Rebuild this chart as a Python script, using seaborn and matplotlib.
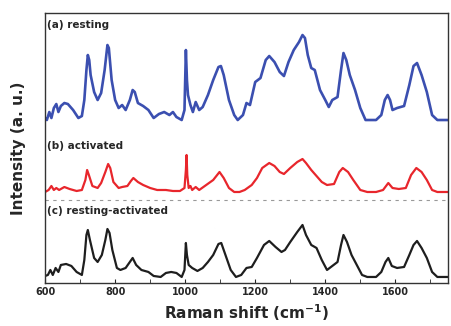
import numpy as np
import matplotlib
matplotlib.use("Agg")
import matplotlib.pyplot as plt
import matplotlib.ticker as ticker
import seaborn as sns

# ── data (wavenumber in cm-1, intensity in a.u. above own baseline) ──
wn_a = [600, 605, 612, 618, 625, 632, 638, 645, 655, 665, 680, 695, 705, 712, 718, 722, 726, 730,
        740, 750, 760, 770, 778, 782, 790, 800, 810, 820, 830, 842, 850, 856, 865, 880, 895, 910,
        925, 940, 955, 965, 975, 990, 998, 1002, 1005, 1008, 1015, 1022, 1030, 1040, 1050, 1065,
        1080, 1095, 1102, 1110, 1125, 1140, 1150, 1165, 1175, 1185, 1200, 1215, 1230, 1240, 1255,
        1270, 1282, 1295, 1310, 1325, 1335, 1342, 1350, 1360, 1370, 1385, 1400, 1410, 1420, 1435,
        1445, 1452, 1460, 1470, 1485, 1500, 1515, 1530, 1545, 1560, 1570, 1578, 1585, 1592, 1605,
        1625, 1640, 1652, 1662, 1675, 1690, 1705, 1720, 1750]
int_a = [2, 0, 8, 2, 12, 16, 8, 14, 17, 16, 10, 2, 4, 20, 50, 65, 60, 45,
         28, 20, 27, 50, 75, 72, 40, 20, 12, 15, 10, 20, 30, 28, 17, 14, 10, 2,
         6, 8, 5, 8, 3, 0, 10, 70, 40, 25, 15, 8, 18, 10, 13, 25,
         40, 53, 54, 45, 20, 5, 0, 5, 17, 15, 38, 42, 60, 64, 58,
         48, 44, 58, 70, 78, 85, 82, 65, 52, 50, 30, 20, 13, 20, 23,
         50, 67, 60, 45, 30, 12, 0, 0, 0, 5, 20, 25, 20, 10, 12,
         14, 35, 54, 57, 45, 28, 5, 0, 0]

wn_b = [600, 610, 618, 625, 632, 640, 655, 670, 690, 705, 715, 720, 725, 735, 750, 760, 772, 780,
        786, 795, 810, 820, 835, 845, 852, 865, 880, 900, 920, 945, 965, 985, 998, 1002, 1004,
        1006, 1010, 1015, 1020, 1030, 1040, 1060, 1080, 1098, 1110, 1125, 1140, 1155, 1170, 1190,
        1205, 1220, 1240, 1255, 1270, 1282, 1300, 1320, 1335, 1345, 1360, 1375, 1390, 1405, 1425,
        1440, 1450, 1465, 1480, 1500, 1520, 1545, 1565, 1580, 1592, 1610, 1630, 1645, 1660, 1675,
        1690, 1705, 1720, 1750]
int_b = [0, 2, 6, 2, 4, 2, 5, 3, 1, 2, 12, 22, 17, 6, 4, 9, 20, 28,
         24, 10, 4, 5, 6, 11, 14, 10, 7, 4, 2, 2, 1, 1, 4, 22, 37,
         17, 4, 6, 2, 5, 2, 7, 12, 20, 14, 4, 0, 0, 2, 7,
         14, 24, 29, 26, 20, 18, 24, 30, 33, 29, 22, 16, 10, 7, 8,
         20, 24, 20, 12, 2, 0, 0, 2, 9, 4, 3, 4, 17, 24, 20,
         12, 2, 0, 0]

wn_c = [600, 608, 615, 622, 630, 638, 645, 660, 675, 690, 705, 712, 718, 722, 728, 740, 750, 762,
        772, 778, 784, 792, 805, 815, 830, 842, 850, 860, 875, 895, 910, 930, 945, 960, 975, 990,
        998, 1002, 1005, 1010, 1020, 1035, 1050, 1065, 1080, 1095, 1103, 1115, 1130, 1145, 1160,
        1175, 1190, 1205, 1225, 1240, 1258, 1275, 1285, 1300, 1320, 1335, 1345, 1360, 1375, 1390,
        1405, 1420, 1435, 1445, 1452, 1462, 1475, 1490, 1505, 1520, 1545, 1560, 1572, 1580, 1590,
        1605, 1625, 1640, 1652, 1662, 1675, 1690, 1705, 1720, 1750]
int_c = [1, 2, 7, 2, 9, 5, 12, 13, 11, 5, 2, 17, 42, 47, 37, 19, 15, 22,
         37, 48, 44, 27, 9, 7, 9, 15, 19, 12, 7, 5, 1, 0, 4, 5, 4, 0,
         7, 34, 22, 12, 9, 6, 9, 15, 22, 33, 34, 22, 7, 0, 2,
         9, 10, 19, 32, 36, 30, 25, 27, 35, 45, 52, 42, 32, 29, 17,
         7, 11, 15, 32, 42, 35, 22, 12, 2, 0, 0, 5, 15, 19, 11,
         9, 10, 22, 32, 36, 29, 19, 5, 0, 0]

labels = ["(a) resting", "(b) activated", "(c) resting-activated"]
offsets = [163, 91, 6]
colors = ["#3b4fb0", "#e8262c", "#1e1e1e"]

sns.set_style("ticks")
plt.rcParams["font.family"] = ["DejaVu Sans"]
plt.rcParams["font.weight"] = "bold"

fig = plt.figure(figsize=(4.51, 3.26), dpi=100)
ax = fig.add_axes([0.1, 0.132, 0.893, 0.828])

series = [(wn_a, int_a), (wn_b, int_b), (wn_c, int_c)]
for (wn, inten), off, col, lw in zip(series, offsets, colors, [1.9, 1.6, 1.6]):
    sns.lineplot(x=wn, y=np.array(inten) + off, ax=ax, color=col, linewidth=lw)

ax.axhline(83, color="#999999", linestyle=(0, (3, 4)), linewidth=0.8)

ax.text(605, 258, labels[0], fontsize=7.5, fontweight="bold", va="center")
ax.text(605, 137, labels[1], fontsize=7.5, fontweight="bold", va="center")
ax.text(605, 72, labels[2], fontsize=7.5, fontweight="bold", va="center")

ax.set_xlim(600, 1750)
ax.set_ylim(0, 270)
ax.xaxis.set_major_locator(ticker.MultipleLocator(200))
ax.xaxis.set_minor_locator(ticker.MultipleLocator(100))
ax.tick_params(axis="x", which="both", direction="in", labelsize=7, length=3, pad=3)
ax.set_yticks([])
for lab in ax.get_xticklabels():
    lab.set_fontweight("bold")
for sp in ax.spines.values():
    sp.set_linewidth(1.0)
    sp.set_color("#333333")

ax.set_xlabel("Raman shift (cm$^{\\mathbf{-1}}$)", fontsize=11, fontweight="bold", labelpad=4)
ax.set_ylabel("Intensity (a. u.)", fontsize=11, fontweight="bold", labelpad=14)

fig.savefig("out.png", dpi=100)
